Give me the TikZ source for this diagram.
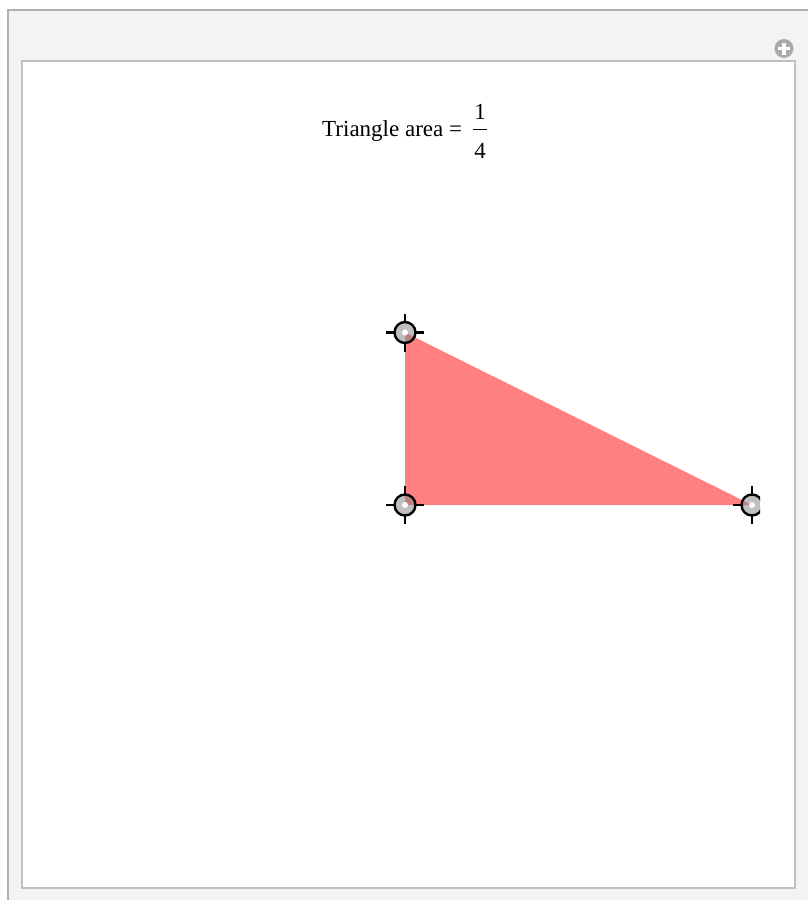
\documentclass[tikz,border=0pt]{standalone}
\usepackage{fontspec}
\setmainfont{Liberation Serif}
\definecolor{framebg}{HTML}{F3F3F3}
\definecolor{framegray}{HTML}{B0B0B0}
\definecolor{panelgray}{HTML}{C0C0C0}
\definecolor{icongray}{HTML}{ABABAB}
\definecolor{trifill}{HTML}{FF8080}
\tikzset{
  locator/.pic={
    \fill[black!50, opacity=.5] (0,0) circle (10.5);
    \draw[line width=2.4] (0,0) circle (10.5);
    \draw[line width=2.4] (-19,0)--(-10.5,0) (10.5,0)--(19,0) (0,-19)--(0,-10.5) (0,10.5)--(0,19);
    \fill[white] (0,0) circle (3);
  },
  label text/.style={inner sep=0pt, font=\fontsize{23}{27}\selectfont}
}
\begin{document}
\begin{tikzpicture}[x=1pt,y=-1pt]
\useasboundingbox (0,0) rectangle (808,900);
\fill[white] (0,0) rectangle (808,900);
\draw[fill=framebg, draw=framegray, line width=2] (8,10) rectangle (812,904);
\draw[fill=white, draw=panelgray, line width=1.5] (22,61) rectangle (795,888);
% plus icon
\fill[icongray] (784,48.5) circle (9.5);
\draw[white, line width=3.5] (778,48.5)--(790,48.5) (784,42.5)--(784,54.5);
% triangle
\coordinate (A) at (405,332.5);
\coordinate (B) at (405,505);
\coordinate (C) at (752,505);
\fill[trifill] (A)--(C)--(B)--cycle;
\begin{scope}
  \clip (22,61) rectangle (760,888);
  \pic at (A) {locator};
  \pic at (B) {locator};
  \pic at (C) {locator};
\end{scope}
% title
\node[label text, anchor=base west] (title) at (322,136) {Triangle area =};
\node[label text, anchor=base] (num) at (480,119) {1};
\node[label text, anchor=base] (den) at (480,158) {4};
\draw[line width=1] (473,129) -- (487,129);
\end{tikzpicture}
\end{document}
